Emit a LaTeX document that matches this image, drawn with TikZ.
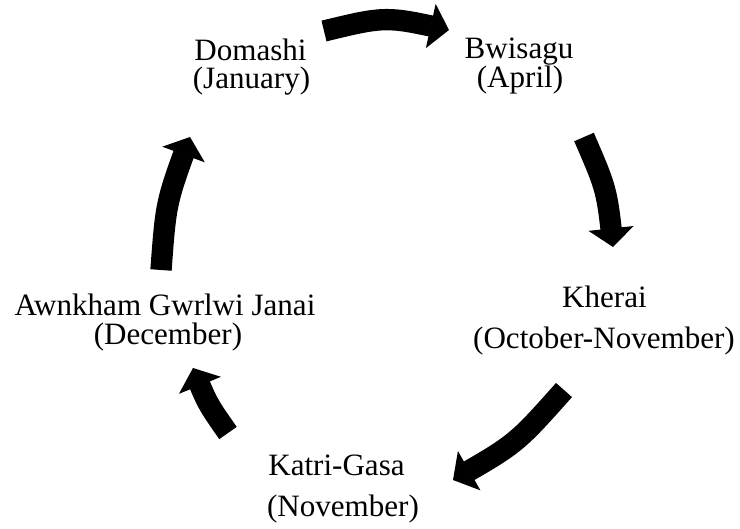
\documentclass[tikz,border=0pt]{standalone}
\usepackage{fontspec}
\setmainfont{Liberation Serif}
\usetikzlibrary{arrows.meta,bending}
\tikzset{
  lbl/.style={inner sep=0pt, anchor=base, font=\fontsize{23.3pt}{28pt}\selectfont},
  cyc/.style={line width=16pt, line cap=butt, draw=black,
    -{Triangle[length=14pt,width=34pt,line width=0pt]}}
}
\begin{document}
\begin{tikzpicture}[x=0.75pt,y=-0.75pt]
\useasboundingbox (0,0) rectangle (740,529);
% labels
\node[lbl] (dom1) at (250.5,60) {Domashi};
\node[lbl] (dom2) at (251.5,88) {(January)};
\node[lbl] (bwi1) at (519,58.5) {Bwisagu};
\node[lbl] (bwi2) at (520,87) {(April)};
\node[lbl] (khe1) at (604.5,307) {Kherai};
\node[lbl] (khe2) at (604,348) {(October-November)};
\node[lbl] (kat1) at (336.5,475) {Katri-Gasa};
\node[lbl] (kat2) at (343,516.5) {(November)};
\node[lbl] (awn1) at (165,315) {Awnkham Gwrlwi Janai};
\node[lbl] (awn2) at (168,344) {(December)};
% arrow end points
\coordinate (a1) at (324,31);  \coordinate (c1) at (386,16);  \coordinate (b1) at (449,30);
\coordinate (a2) at (584,137); \coordinate (c2) at (607,190); \coordinate (b2) at (613,247);
\coordinate (a3) at (564,390); \coordinate (c3) at (516,444); \coordinate (b3) at (453,480);
\coordinate (a4) at (228,433); \coordinate (c4) at (207,403); \coordinate (b4) at (193,368);
\coordinate (a5) at (161,270); \coordinate (c5) at (166,202); \coordinate (b5) at (190,137);
\draw[cyc] (a1) .. controls (c1) .. (b1);
\draw[cyc] (a2) .. controls (c2) .. (b2);
\draw[cyc] (a3) .. controls (c3) .. (b3);
\draw[cyc] (a4) .. controls (c4) .. (b4);
\draw[cyc] (a5) .. controls (c5) .. (b5);
\end{tikzpicture}
\end{document}
